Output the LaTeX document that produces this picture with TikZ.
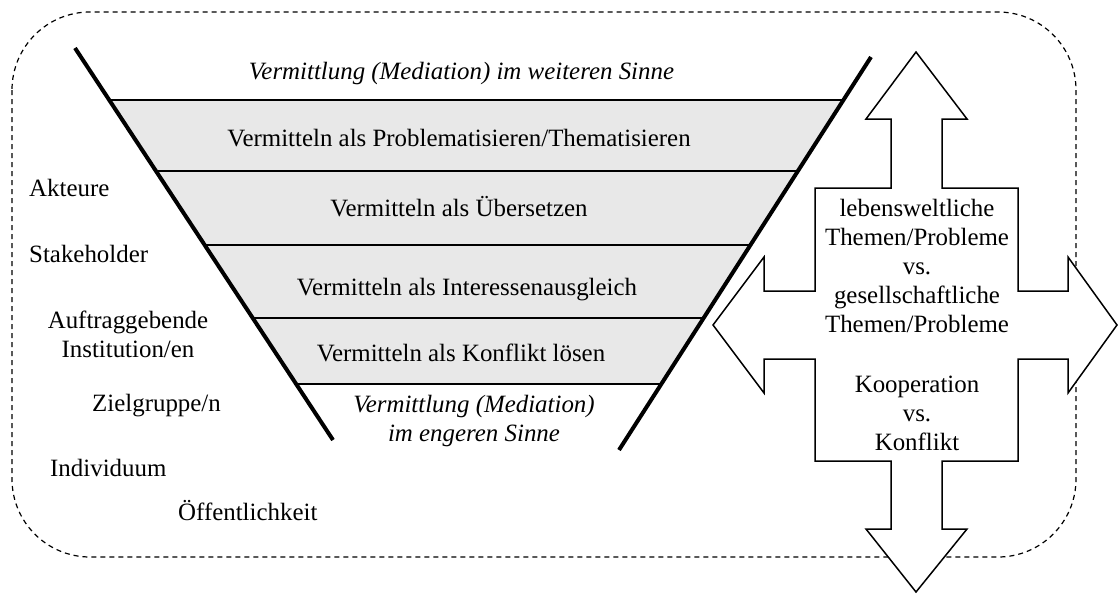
\documentclass[tikz,border=0pt]{standalone}
\usepackage{fontspec}
\setmainfont{Liberation Serif}
\usetikzlibrary{calc}
\definecolor{bandgray}{HTML}{E8E8E8}
\tikzset{
  mtext/.style={
    inner sep=0pt,
    align=center,
    font=\fontsize{24.9}{29}\selectfont
  },
  mitext/.style={mtext,font=\fontsize{24.9}{29}\selectfont\itshape},
  mside/.style={mtext,anchor=base west},
  mfunnel/.style={draw=black,line width=4pt},
  mband/.style={draw=black,line width=1.8pt},
  marrow/.style={draw=black,fill=white,line width=1.5pt},
  mframe/.style={draw=black,dash pattern=on 5pt off 4pt,line width=1.2pt,rounded corners=78pt}
}

\begin{document}
\begin{tikzpicture}[x=1pt,y=-1pt]
  \useasboundingbox (0,0) rectangle (1119,594);
  \draw[mframe] (12,12) rectangle (1076,557);

  % funnel
  \coordinate (ltop) at (75,48);
  \coordinate (lbot) at (333,440);
  \coordinate (rtop) at (871,57);
  \coordinate (rbot) at (619,450);
  \fill[bandgray] ($(ltop)!{52/392}!(lbot)$) -- ($(rtop)!{43/393}!(rbot)$)
    -- ($(rtop)!{327/393}!(rbot)$) -- ($(ltop)!{336/392}!(lbot)$) -- cycle;
  \foreach \y in {100,171,245,318,384}
    \draw[mband] ($(ltop)!{(\y-48)/392}!(lbot)$) -- ($(rtop)!{(\y-57)/393}!(rbot)$);
  \draw[mfunnel] (ltop) -- (lbot);
  \draw[mfunnel] (rtop) -- (rbot);

  \node[mitext,anchor=base] (wide) at (461.5,80) {Vermittlung (Mediation) im weiteren Sinne};
  \node[mtext,anchor=base] (probl) at (459,146.7) {Vermitteln als Problematisieren/Thematisieren};
  \node[mtext,anchor=base] (uebers) at (459,216.7) {Vermitteln als Übersetzen};
  \node[mtext,anchor=base] (ausgl) at (467,295) {Vermitteln als Interessenausgleich};
  \node[mtext,anchor=base] (konfl) at (461,361.7) {Vermitteln als Konflikt lösen};
  \node[mitext,anchor=base] (narrow) at (474,441.7) {Vermittlung (Mediation)\\im engeren Sinne};

  % actors on the left
  \node[mside] (akteure) at (29,196.7) {Akteure};
  \node[mside] (stake) at (29,262.7) {Stakeholder};
  \node[mtext,anchor=base] (auftrag) at (128,357) {Auftraggebende\\Institution/en};
  \node[mside] (ziel) at (92,411.7) {Zielgruppe/n};
  \node[mside] (indiv) at (50,476.7) {Individuum};
  \node[mside] (oeff) at (178,520) {Öffentlichkeit};

  % four-way arrow
  \draw[marrow] (916,52) -- (967,119) -- (942,119) -- (942,188) -- (1018,188)
    -- (1018,291) -- (1068,291) -- (1068,257) -- (1117,325) -- (1068,393)
    -- (1068,359) -- (1018,359) -- (1018,461) -- (942,461) -- (942,529)
    -- (967,529) -- (916,592) -- (866,529) -- (891,529) -- (891,461)
    -- (815,461) -- (815,359) -- (764,359) -- (764,393) -- (713,325)
    -- (764,257) -- (764,291) -- (815,291) -- (815,188) -- (891,188)
    -- (891,119) -- (866,119) -- cycle;
  \node[mtext,anchor=base] (themen) at (917,332.7) {lebensweltliche\\Themen/Probleme\\vs.\\gesellschaftliche\\Themen/Probleme};
  \node[mtext,anchor=base] (koop) at (917,450.5) {Kooperation\\vs.\\Konflikt};
\end{tikzpicture}
\end{document}
